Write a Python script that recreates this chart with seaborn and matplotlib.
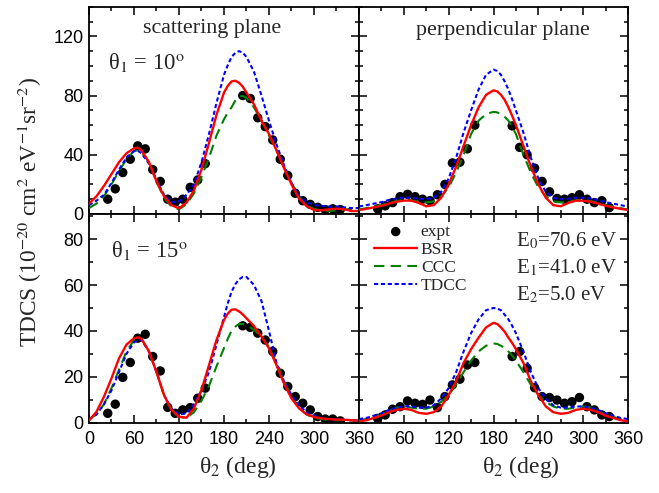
import matplotlib
matplotlib.use("Agg")
import matplotlib.pyplot as plt
import seaborn as sns
from matplotlib.ticker import MultipleLocator

# ---------------- data ----------------
theta = [0, 10, 20, 30, 40, 50, 60, 65, 70, 80, 90, 100, 110, 120, 130, 140, 150, 160, 170,
         180, 185, 190, 195, 200, 205, 210, 220, 230, 240, 250, 260, 270, 280, 290, 300,
         310, 320, 330, 340, 350, 360]
expt_theta = [25, 35, 45, 55, 65, 75, 85, 95, 105, 115, 125, 135, 145, 155,
              205, 215, 225, 235, 245, 255, 265, 275, 285, 295, 305, 315, 325, 335]

# theta1 = 10 deg, scattering plane
tl_expt = [10, 17, 28, 37, 46, 44, 30, 22, 10, 8, 10, 18, 23, 34,
           80, 78, 65, 59, 50, 37, 26, 14, 9, 6.5, 4.5, 3, 3.5, 3]
tl_bsr = [7, 12, 19, 27, 35, 41, 44.4, 44.8, 43, 35, 22, 12, 6, 3.8, 7.7, 16, 30, 48, 67,
          82, 86.5, 89.5, 90, 88.7, 86, 82, 74, 63, 54, 43, 31, 20, 10.5, 5.4, 2.7,
          2.5, 3.2, 3.6, 3.2, 2, 2]
tl_ccc = [4, 7, 12, 20, 29, 37, 42.5, 43, 42, 35, 22, 11, 5, 3.2, 6.5, 14, 25, 38, 53,
          64, 68.5, 72, 76.5, 79.5, 79.7, 78.5, 72, 63, 53, 43, 32, 21, 12, 6, 3.5,
          2.5, 2, 2.5, 3, 3.5, 4]
tl_tdcc = [6, 9, 13, 21, 30, 38, 42.5, 42.8, 41, 34, 23, 13, 8, 8.5, 13, 20, 35, 54, 75,
           94, 100.5, 106, 108.8, 110, 109, 106, 96, 80, 63, 47, 33, 21, 12, 8, 6,
           5.5, 5, 5, 4.5, 4, 4]

# theta1 = 10 deg, perpendicular plane
tr_expt = [3.5, 5.5, 7.7, 11.7, 13.3, 11.7, 10, 9, 13, 20, 34.5, 35, 44, 60,
           59.5, 45, 40, 31, 22, 15, 10.5, 10, 11, 13, 10, 7.7, 9, 4.3]
tr_bsr = [2.7, 3.5, 4.5, 5.5, 7, 8.3, 9, 9.1, 9, 7.5, 5.2, 6, 11, 20, 32, 46, 60, 72, 80.5,
          83.5, 82.8, 80.5, 77, 72, 66.3, 60, 46, 32, 20, 11, 6, 5.2, 7.5, 9, 9,
          8.3, 7, 5.5, 4.5, 3.5, 2.7]
tr_ccc = [3, 4, 5, 6, 7.5, 8.8, 9.5, 9.5, 9.3, 8.3, 7.8, 8.5, 12, 18, 28, 40, 54, 63, 67.5,
          69, 68.6, 67.5, 65.6, 63, 58.7, 54, 40, 28, 18, 12, 8.5, 7.8, 8.3, 9.3, 9.5,
          8.8, 7.5, 6, 5, 4, 3]
tr_tdcc = [5, 6, 7, 8, 9.5, 10.5, 11, 11.1, 11, 10.3, 10, 11, 15, 24, 38, 55, 70, 84, 94,
           97.5, 96.6, 94, 89.5, 84, 77.3, 70, 55, 38, 24, 15, 11, 10, 10.3, 11, 11,
           10.5, 9.5, 8, 7, 6, 5]

# theta1 = 15 deg, scattering plane
bl_expt = [4, 8, 19.7, 26.2, 36.8, 38.5, 28.8, 22.5, 6.6, 4, 5.5, 6.5, 10.6, 15,
           42.2, 41.5, 39, 36, 31, 21.5, 15.7, 11.3, 8.4, 5.5, 2.6, 1.5, 1.5, 0.7]
bl_bsr = [0.8, 4.7, 11.3, 19.3, 28, 34, 36.8, 37.2, 36.5, 31, 22, 12, 5.5, 2.5, 2.1, 6.2, 14.2, 25, 36,
          44.8, 47.5, 49.2, 49.4, 48.5, 47.2, 45.5, 42, 37.5, 32.4, 25, 17, 10.5, 6.2, 3.6, 2.4,
          1.8, 1.5, 1.3, 1.2, 1, 0.8]
bl_ccc = [1.5, 3.5, 8, 15, 23, 31, 36, 36.5, 36.5, 31, 22, 12, 5, 2.5, 2, 4.5, 9.5, 16, 24.5,
          32.5, 36.5, 40, 41.8, 43, 43, 42.5, 40.5, 37.5, 33, 26, 18.5, 11.5, 6.5, 3.5, 2,
          1.5, 1, 1, 1, 0.8, 0.7]
bl_tdcc = [1.5, 3.5, 8, 14, 22, 30, 35, 36, 36, 31, 22, 12, 6, 3.5, 4, 8, 14, 22, 34,
           46, 52, 57, 60.3, 62.5, 63.5, 63.5, 60, 53, 40, 26, 18, 12, 7.5, 4.5, 3,
           2, 1.5, 1.3, 1.2, 1, 0.8]

# theta1 = 15 deg, perpendicular plane
br_expt = [1.8, 3.3, 5.8, 6.9, 9.4, 8.4, 7.9, 9.8, 6.5, 11.3, 16.4, 18.9, 25.1, 26.2,
           28.8, 31, 23.7, 15.2, 11.3, 10.9, 9.8, 8.4, 9.1, 10.9, 6.9, 5.5, 3.3, 2.6]
br_bsr = [0.5, 1, 2, 3, 4.5, 5.5, 6, 5.8, 5.5, 4.2, 3.8, 4.5, 7, 12, 18, 26, 32, 37, 41.5,
          43.5, 43, 41.5, 39.6, 37, 34.7, 32, 26, 18, 12, 7, 4.5, 3.8, 4.2, 5.5, 6,
          5.5, 4.5, 3, 2, 1, 0.5]
br_ccc = [1, 1.5, 2.5, 3.5, 5, 6.5, 7, 6.8, 6.5, 6, 6, 7, 9, 12, 16.5, 22, 27, 31, 33.5,
          34.5, 34.3, 33.5, 32.5, 31, 29.2, 27, 22, 16.5, 12, 9, 7, 6, 6, 6.5, 7,
          6.5, 5, 3.5, 2.5, 1.5, 1]
br_tdcc = [1.5, 2, 3, 4, 5.5, 6.5, 7, 7.1, 7, 6.5, 6.5, 7.5, 10.5, 15, 22, 31, 39, 45, 49,
           50, 49.7, 49, 47, 45, 42.2, 39, 31, 22, 15, 10.5, 7.5, 6.5, 6.5, 7, 7,
           6.5, 5.5, 4, 3, 2, 1.5]

x_ticklabels = ["0", "60", "120", "180", "240", "300", "360"]

# ---------------- style ----------------
sns.set_theme(style="ticks")
plt.rcParams["font.family"] = ["Liberation Sans", "DejaVu Sans"]
plt.rcParams["mathtext.fontset"] = "stix"
SERIF = ["Liberation Serif", "DejaVu Serif"]

RED = "#ff0000"
GREEN = "#008000"
BLUE = "#0000ff"

W, H = 659, 493
fig = plt.figure(figsize=(W / 100, H / 100), dpi=100)


def add(x0, x1, y0, y1):
    return fig.add_axes([x0 / W, 1 - y1 / H, (x1 - x0) / W, (y1 - y0) / H])


axTL = add(89, 359, 6.7, 214)
axTR = add(359, 628, 6.7, 214)
axBL = add(89, 359, 214, 422.5)
axBR = add(359, 628, 214, 422.5)

panels = [
    (axTL, tl_expt, tl_bsr, tl_ccc, tl_tdcc),
    (axTR, tr_expt, tr_bsr, tr_ccc, tr_tdcc),
    (axBL, bl_expt, bl_bsr, bl_ccc, bl_tdcc),
    (axBR, br_expt, br_bsr, br_ccc, br_tdcc),
]

for ax, ex, bsr, ccc, tdcc in panels:
    sns.scatterplot(x=expt_theta, y=ex, ax=ax, color="black", s=46,
                    edgecolor="none", linewidth=0, zorder=2, label="expt", legend=False)
    sns.lineplot(x=theta, y=ccc, ax=ax, color=GREEN, linewidth=1.5,
                 linestyle=(0, (5, 3)), zorder=3, label="CCC", legend=False)
    sns.lineplot(x=theta, y=tdcc, ax=ax, color=BLUE, linewidth=1.5,
                 linestyle=(0, (2, 1.3)), zorder=4, label="TDCC", legend=False)
    sns.lineplot(x=theta, y=bsr, ax=ax, color=RED, linewidth=1.7,
                 zorder=5, label="BSR", legend=False)
    ax.set_xlim(0, 360)
    ax.set_xticks([0, 60, 120, 180, 240, 300, 360])
    ax.xaxis.set_minor_locator(MultipleLocator(30))
    ax.set_xlabel("")
    ax.set_ylabel("")
    ax.tick_params(which="both", direction="in", top=True, right=True,
                   labelsize=13, width=1.1, colors="black")
    ax.tick_params(which="major", length=5.5)
    ax.tick_params(which="minor", length=3)
    ax.tick_params(axis="x", pad=6)
    ax.tick_params(axis="y", pad=4)
    for sp in ax.spines.values():
        sp.set_linewidth(1.3)
        sp.set_color("black")
    ax.set_facecolor("white")

for ax in (axTL, axTR):
    ax.set_ylim(0, 140)
    ax.yaxis.set_major_locator(MultipleLocator(40))
    ax.yaxis.set_minor_locator(MultipleLocator(10))
    ax.tick_params(labelbottom=False)
for ax in (axBL, axBR):
    ax.set_ylim(0, 91)
    ax.yaxis.set_major_locator(MultipleLocator(20))
    ax.yaxis.set_minor_locator(MultipleLocator(10))
for ax in (axTR, axBR):
    ax.tick_params(labelleft=False)

axBL.set_xticklabels(x_ticklabels)
axBR.set_xticklabels([""] + x_ticklabels[1:])

# legend
h, l = axBR.get_legend_handles_labels()
order = ["expt", "BSR", "CCC", "TDCC"]
hd = dict(zip(l, h))
axBR.legend([hd[k] for k in order], order, loc="upper left",
            bbox_to_anchor=((374 - 359) / 269, (422.5 - 224) / 208.5),
            frameon=False, prop={"family": SERIF, "size": 12.5},
            handlelength=2.5, handletextpad=0.2, labelspacing=0.1,
            borderpad=0, borderaxespad=0)

# texts
def ftext(x, y, s, size, **kw):
    fig.text(x / W, 1 - y / H, s, fontsize=size, family=SERIF, **kw)

ftext(212.5, 28, "scattering plane", 15.8, ha="center", va="center")
ftext(502.5, 31, "perpendicular plane", 15.8, ha="center", va="center")
ftext(108, 63, r"θ$_1$ = 10$^{\rm o}$", 16.3, ha="left", va="center")
ftext(111, 250, r"θ$_1$ = 15$^{\rm o}$", 16.3, ha="left", va="center")
ftext(516, 241, r"E$_0$=70.6 eV", 15.0, ha="left", va="center")
ftext(516, 268, r"E$_1$=41.0 eV", 15.0, ha="left", va="center")
ftext(516, 295, r"E$_2$=5.0 eV", 15.0, ha="left", va="center")
ftext(238, 467, r"θ$_2$ (deg)", 17, ha="center", va="center")
ftext(521, 467, r"θ$_2$ (deg)", 17, ha="center", va="center")
ftext(30, 212, r"TDCS (10$^{-20}$ cm$^2$ eV$^{-1}$sr$^{-2}$)", 16.8,
      ha="center", va="center", rotation=90)

fig.savefig("out.png", dpi=100, facecolor="white")
